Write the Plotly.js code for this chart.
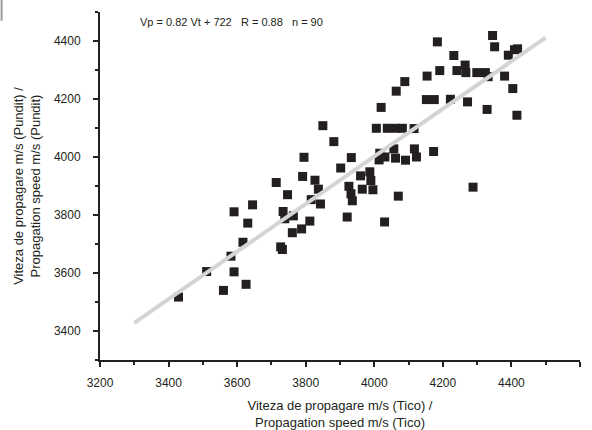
<!DOCTYPE html>
<html>
<head>
<meta charset="utf-8">
<script src="https://cdn.plot.ly/plotly-3.0.1.min.js"></script>
<style>html,body{margin:0;padding:0;background:#fff;}#chart{width:592px;height:430px;}</style>
</head>
<body>
<div id="chart"></div>
<script>
// Propagation speed measured with Tico (x) vs Pundit (y), m/s
const tico = [
  3429, 3511, 3560, 3591, 3591, 3582, 3626, 3631, 3645, 3617,
  3714, 3734, 3747, 3739, 3727, 3732, 3764, 3761, 3788, 3812,
  3795, 3791, 3827, 3837, 3816, 3843, 3850, 3882, 3902, 3933,
  3921, 3926, 3960, 3987, 3990, 3965, 3996, 3936, 3932, 4030,
  4070, 4014, 4016, 4031, 4057, 4062, 4091, 4117, 4123, 4173,
  4006, 4038, 4062, 4082, 4116, 4020, 4064, 4089, 4152, 4175,
  4222, 4272, 4329, 4416, 4154, 4191, 4184, 4232, 4241, 4265,
  4267, 4299, 4324, 4332, 4380, 4404, 4345, 4351, 4391, 4409,
  4418, 4288
];
const pundit = [
  3517, 3605, 3540, 3811, 3604, 3658, 3561, 3772, 3835, 3706,
  3912, 3812, 3870, 3787, 3690, 3681, 3797, 3739, 3752, 3779,
  3999, 3933, 3920, 3889, 3853, 3838, 4108, 4053, 3962, 3998,
  3793, 3899, 3935, 3949, 3919, 3889, 3887, 3849, 3873, 3776,
  3865, 3990, 4013, 4000, 4028, 3996, 3989, 4028, 4000, 4019,
  4099, 4099, 4099, 4099, 4098, 4171, 4227, 4260, 4198, 4198,
  4199, 4190, 4164, 4144, 4279, 4298, 4397, 4350, 4298, 4317,
  4291, 4291, 4291, 4277, 4279, 4236, 4419, 4380, 4351, 4370,
  4373, 3896
];
// Regression line Vp = 0.82 Vt + 722 (end points)
const fitX = [3300, 4500];
const fitY = [3428, 4412];

const xTicks = [3200, 3400, 3600, 3800, 4000, 4200, 4400, 4600];
const yTicks = [3400, 3600, 3800, 4000, 4200, 4400];

const FONT = '"Liberation Sans", Arial, sans-serif';

const traces = [
  {
    x: tico, y: pundit, type: 'scatter', mode: 'markers',
    marker: {symbol: 'square', size: 9, color: '#231f20'},
    showlegend: false, hoverinfo: 'x+y'
  },
  {
    x: fitX, y: fitY, type: 'scatter', mode: 'lines',
    line: {color: '#d4d4d4', width: 4},
    showlegend: false, hoverinfo: 'skip'
  }
];

const layout = {
  width: 592, height: 430,
  margin: {l: 100, r: 12, t: 12, b: 70},
  paper_bgcolor: '#ffffff', plot_bgcolor: '#ffffff',
  font: {family: FONT, size: 12, color: '#231f20'},
  showlegend: false,
  xaxis: {
    range: [3200, 4600], tickmode: 'array', tickvals: xTicks,
    ticktext: xTicks.map(String),
    showgrid: false, zeroline: false,
    showline: true, linecolor: '#231f20', linewidth: 2,
    ticks: 'outside', ticklen: 5, tickwidth: 2, tickcolor: '#231f20',
    minor: {dtick: 100, tick0: 3200, ticks: 'outside', ticklen: 3, tickwidth: 2, tickcolor: '#231f20', showgrid: false},
    ticklabelstandoff: 6,
    tickfont: {family: FONT, size: 12, color: '#231f20'},
    title: {text: 'Viteza de propagare m/s (Tico) /<br>Propagation speed m/s (Tico)',
            font: {family: FONT, size: 13, color: '#231f20'}, standoff: 12}
  },
  yaxis: {
    range: [3300, 4500], tickmode: 'array', tickvals: yTicks,
    ticktext: yTicks.map(String),
    showgrid: false, zeroline: false,
    showline: true, linecolor: '#231f20', linewidth: 2,
    ticks: 'outside', ticklen: 5, tickwidth: 2, tickcolor: '#231f20',
    minor: {dtick: 100, tick0: 3300, ticks: 'outside', ticklen: 3, tickwidth: 2, tickcolor: '#231f20', showgrid: false},
    ticklabelstandoff: 10,
    tickfont: {family: FONT, size: 12, color: '#231f20'},
    title: {text: 'Viteza de propagare m/s (Pundit) /<br>Propagation speed m/s (Pundit)',
            font: {family: FONT, size: 13, color: '#231f20'}, standoff: 10}
  },
  annotations: [
    {
      xref: 'paper', yref: 'paper', x: 0.08, y: 1.0, xanchor: 'left', yanchor: 'middle',
      yshift: -10,
      text: 'Vp = 0.82 Vt + 722\u00A0\u00A0\u00A0R = 0.88\u00A0\u00A0\u00A0n = 90',
      showarrow: false, font: {family: FONT, size: 11, color: '#231f20'}
    }
  ],
  shapes: [
    {type: 'line', xref: 'paper', yref: 'paper', x0: -0.205, x1: -0.205, y0: 1.035, y1: 0.975,
     line: {color: '#9a9a9a', width: 2}}
  ]
};

Plotly.newPlot('chart', traces, layout, {staticPlot: true, displayModeBar: false});
</script>
</body>
</html>
